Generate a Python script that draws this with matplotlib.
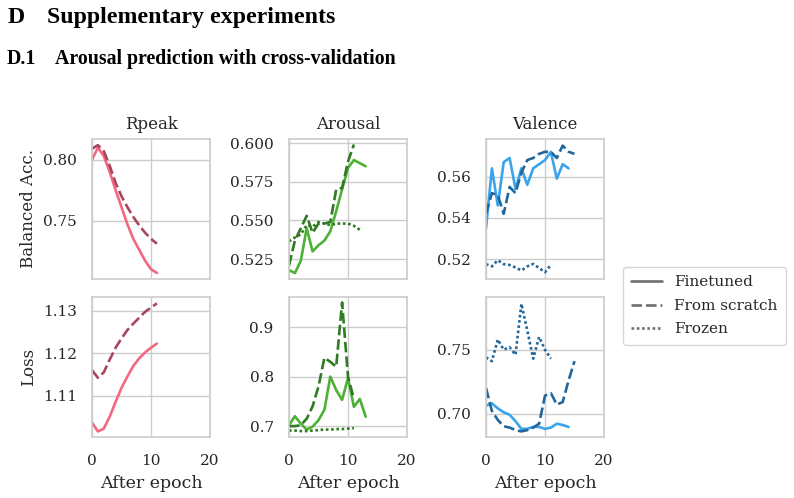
import matplotlib
matplotlib.use("Agg")
import matplotlib.pyplot as plt
import seaborn as sns
from matplotlib.lines import Line2D

sns.set_theme(style="whitegrid")
plt.rcParams["font.family"] = ["DejaVu Serif"]

# ---- data ----
rpeak_acc_ft = [0.800, 0.810, 0.803, 0.790, 0.775, 0.761, 0.747, 0.735, 0.726, 0.717, 0.710, 0.707]
rpeak_acc_fs = [0.809, 0.812, 0.807, 0.795, 0.781, 0.770, 0.761, 0.753, 0.746, 0.740, 0.735, 0.731]
rpeak_loss_ft = [1.1036, 1.1015, 1.1022, 1.1050, 1.1085, 1.1118, 1.1145, 1.1170, 1.1188, 1.1202, 1.1213, 1.1223]
rpeak_loss_fs = [1.1160, 1.1142, 1.1155, 1.1185, 1.1213, 1.1235, 1.1255, 1.1270, 1.1284, 1.1298, 1.1308, 1.1318]

arousal_acc_ft = [0.518, 0.516, 0.524, 0.545, 0.530, 0.534, 0.537, 0.543, 0.556, 0.570, 0.584, 0.589, 0.587, 0.585]
arousal_acc_fs = [0.521, 0.537, 0.545, 0.553, 0.542, 0.548, 0.548, 0.549, 0.570, 0.571, 0.588, 0.599]
arousal_acc_fr = [0.5365, 0.539, 0.541, 0.547, 0.546, 0.549, 0.548, 0.547, 0.548, 0.548, 0.548, 0.5465, 0.544]
arousal_loss_ft = [0.702, 0.720, 0.705, 0.693, 0.699, 0.712, 0.733, 0.800, 0.773, 0.753, 0.797, 0.739, 0.755, 0.719]
arousal_loss_fs = [0.700, 0.700, 0.702, 0.715, 0.740, 0.780, 0.838, 0.830, 0.820, 0.950, 0.800, 0.755]
arousal_loss_fr = [0.691, 0.691, 0.690, 0.690, 0.691, 0.692, 0.693, 0.693, 0.694, 0.694, 0.695, 0.696]

valence_acc_ft = [0.535, 0.564, 0.546, 0.567, 0.569, 0.554, 0.564, 0.556, 0.564, 0.566, 0.568, 0.572, 0.559, 0.566, 0.564]
valence_acc_fs = [0.542, 0.552, 0.551, 0.542, 0.555, 0.552, 0.562, 0.568, 0.569, 0.571, 0.572, 0.572, 0.569, 0.575, 0.572, 0.571]
valence_acc_fr = [0.5176, 0.5165, 0.5195, 0.5176, 0.5172, 0.5160, 0.5145, 0.5165, 0.5177, 0.5157, 0.5137, 0.5172]
valence_loss_ft = [0.706, 0.708, 0.704, 0.701, 0.699, 0.694, 0.688, 0.688, 0.6895, 0.6895, 0.688, 0.689, 0.692, 0.691, 0.6895]
valence_loss_fs = [0.720, 0.702, 0.695, 0.690, 0.689, 0.687, 0.686, 0.687, 0.689, 0.692, 0.714, 0.716, 0.707, 0.709, 0.726, 0.741]
valence_loss_fr = [0.744, 0.741, 0.758, 0.750, 0.752, 0.746, 0.786, 0.765, 0.743, 0.760, 0.750, 0.743]

titles = ["Rpeak", "Arousal", "Valence"]
row_labels = ["Balanced Acc.", "Loss"]
legend_labels = ["Finetuned", "From scratch", "Frozen"]

# light / dark colour per task
colors = {
    "Rpeak": ("#f5677f", "#a6485d"),
    "Arousal": ("#4cb135", "#2f7a22"),
    "Valence": ("#3ba3ec", "#22679c"),
}

panels = {
    ("Rpeak", 0): [(rpeak_acc_ft, "ft"), (rpeak_acc_fs, "fs")],
    ("Rpeak", 1): [(rpeak_loss_ft, "ft"), (rpeak_loss_fs, "fs")],
    ("Arousal", 0): [(arousal_acc_ft, "ft"), (arousal_acc_fs, "fs"), (arousal_acc_fr, "fr")],
    ("Arousal", 1): [(arousal_loss_ft, "ft"), (arousal_loss_fs, "fs"), (arousal_loss_fr, "fr")],
    ("Valence", 0): [(valence_acc_ft, "ft"), (valence_acc_fs, "fs"), (valence_acc_fr, "fr")],
    ("Valence", 1): [(valence_loss_ft, "ft"), (valence_loss_fs, "fs"), (valence_loss_fr, "fr")],
}

ylims = {
    ("Rpeak", 0): (0.702, 0.817), ("Rpeak", 1): (1.1002, 1.1333),
    ("Arousal", 0): (0.5122, 0.6026), ("Arousal", 1): (0.678, 0.961),
    ("Valence", 0): (0.5104, 0.5782), ("Valence", 1): (0.6816, 0.7913),
}
yticks = {
    ("Rpeak", 0): [0.75, 0.80], ("Rpeak", 1): [1.11, 1.12, 1.13],
    ("Arousal", 0): [0.525, 0.550, 0.575, 0.600], ("Arousal", 1): [0.7, 0.8, 0.9],
    ("Valence", 0): [0.52, 0.54, 0.56], ("Valence", 1): [0.70, 0.75],
}
ytickfmt = {
    ("Rpeak", 0): "{:.2f}", ("Rpeak", 1): "{:.2f}",
    ("Arousal", 0): "{:.3f}", ("Arousal", 1): "{:.1f}",
    ("Valence", 0): "{:.2f}", ("Valence", 1): "{:.2f}",
}

dash_styles = {"ft": "", "fs": (4, 1.5), "fr": (1, 1)}
lw = 1.9

fig = plt.figure(figsize=(7.94, 4.98), dpi=100)

lefts = [92 / 794, 289 / 794, 486 / 794]
width = 118 / 794
bottoms = [1 - 279 / 498, 1 - 437 / 498]
height = 140 / 498

grid_c = "#cccccc"
text_c = "#262626"

for j, task in enumerate(titles):
    light, dark = colors[task]
    for i in range(2):
        ax = fig.add_axes([lefts[j], bottoms[i], width, height])
        for vals, kind in panels[(task, i)]:
            c = light if kind == "ft" else dark
            ln, = ax.plot(range(len(vals)), vals, color=c, lw=lw)
            if dash_styles[kind]:
                ln.set_dashes(dash_styles[kind])
        ax.set_xlim(0, 20)
        ax.set_xticks([0, 10, 20])
        ax.set_ylim(*ylims[(task, i)])
        ax.set_yticks(yticks[(task, i)])
        ax.set_yticklabels([ytickfmt[(task, i)].format(v) for v in yticks[(task, i)]])
        ax.grid(True, color=grid_c, lw=1.0)
        for s in ax.spines.values():
            s.set_color(grid_c)
            s.set_linewidth(1.2)
        ax.tick_params(axis="y", length=0, pad=11, labelsize=11, labelcolor=text_c)
        ax.tick_params(axis="x", length=0, pad=12.5, labelsize=11, labelcolor=text_c)
        if i == 0:
            ax.set_title(task, fontsize=12, color=text_c, pad=7)
            ax.set_xticklabels([])
        else:
            ax.set_xlabel("After epoch", fontsize=12.5, color=text_c, labelpad=5)
        if j == 0:
            ax.set_ylabel(row_labels[i], fontsize=12, color=text_c, labelpad=4)

handles = [
    Line2D([], [], color="#707070", lw=lw, dashes=dash_styles[k]) if dash_styles[k]
    else Line2D([], [], color="#707070", lw=lw)
    for k in ["ft", "fs", "fr"]
]
leg = fig.legend(handles, legend_labels, loc="upper left",
                 bbox_to_anchor=(623 / 794, 1 - 267 / 498), fontsize=11,
                 frameon=True, handlelength=2.0, handletextpad=0.8, borderpad=0.55,
                 borderaxespad=0.0, labelspacing=0.62)
leg.get_frame().set_edgecolor("#cccccc")
for t in leg.get_texts():
    t.set_color(text_c)

# section headings from the surrounding page
fig.text(8 / 794, 1 - 23 / 498, "D", fontsize=17.2, fontweight="bold",
         family="Liberation Serif", color="black", va="baseline")
fig.text(47 / 794, 1 - 23 / 498, "Supplementary experiments", fontsize=17.2,
         fontweight="bold", family="Liberation Serif", color="black", va="baseline")
fig.text(7 / 794, 1 - 64 / 498, "D.1", fontsize=14.3, fontweight="bold",
         family="Liberation Serif", color="black", va="baseline")
fig.text(55 / 794, 1 - 64 / 498, "Arousal prediction with cross-validation", fontsize=14.3,
         fontweight="bold", family="Liberation Serif", color="black", va="baseline")

fig.savefig("out.png", dpi=100, facecolor="white")
